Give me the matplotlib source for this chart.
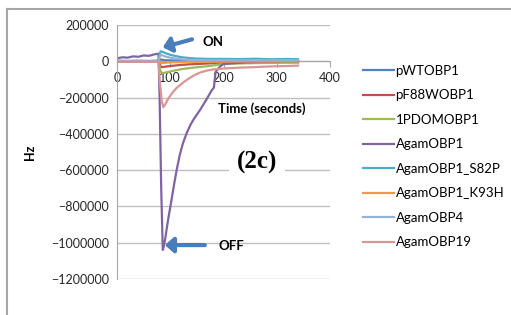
import matplotlib.pyplot as plt
from matplotlib.lines import Line2D

# time points (s) and responses (Hz)
t_flat = [0, 20, 40, 60, 78, 80, 82, 86, 90, 100, 110, 120, 135, 150, 170, 200, 230, 260, 290, 320, 340]
pwt = [2000, 1000, 2000, 1000, 2000, 8000, 10000, 8000, 6000, 5000, 4000, 4000, 3000, 3000, 2000, 3000, 2000, 3000, 2000, 3000, 2000]
pf88w = [0, -1000, 0, -1000, 0, -15000, -30000, -32000, -30000, -26000, -23000, -20000, -17000, -15000, -12000, -8000, -6000, -5000, -4000, -3000, -3000]
pdom = [0, 0, -1000, 0, 0, -30000, -58000, -65000, -63000, -56000, -50000, -44000, -38000, -33000, -27000, -15000, -12000, -10000, -9000, -8000, -8000]
s82p = [3000, 2000, 3000, 2000, 4000, 40000, 55000, 52000, 46000, 36000, 29000, 23000, 18000, 15000, 13000, 13000, 12000, 14000, 11000, 13000, 11000]
k93h = [0, 0, 0, 0, 0, -5000, -10000, -9000, -8000, -6000, -5000, -4000, -3000, -3000, -2000, -2000, -1000, -1000, -1000, 0, 0]
obp4 = [0, 1000, 0, 1000, 0, 25000, 35000, 32000, 27000, 20000, 15000, 11000, 8000, 7000, 6000, 6000, 5000, 6000, 5000, 6000, 5000]

t_obp1 = [0, 10, 20, 30, 40, 50, 60, 70, 78, 80, 83, 86, 88, 91, 94, 97, 100, 104, 108, 112, 118, 124, 131, 138, 145,
          156, 163, 169, 174, 178, 182, 185, 190, 195, 200, 220, 250, 280, 310, 340]
agam_obp1 = [16000, 22000, 20000, 27000, 25000, 32000, 30000, 38000, 42000, -200000, -700000, -1040000, -1020000, -970000, -910000, -855000, -805000, -735000, -665000, -600000, -515000, -450000, -395000, -350000, -315000,
             -268000, -235000, -205000, -180000, -160000, -145000, -60000, -40000, -25000, -15000, -10000, -5000, -3000, 0, 0]

t_obp19 = [0, 20, 40, 60, 78, 80, 84, 87, 91, 95, 100, 105, 111, 118, 126, 135, 145, 156, 168, 180, 200, 230, 260, 290, 320, 340]
agam_obp19 = [-3000, -2000, -3000, -2000, -3000, -100000, -220000, -253000, -235000, -212000, -190000, -170000, -150000, -132000, -113000, -95000, -77000, -62000, -52000, -45000, -40000, -35000, -32000, -28000, -26000, -24000]

labels = ["pWTOBP1", "pF88WOBP1", "1PDOMOBP1", "AgamOBP1", "AgamOBP1_S82P", "AgamOBP1_K93H", "AgamOBP4", "AgamOBP19"]
colors = ["#4F81BD", "#C0504D", "#9BBB59", "#8064A2", "#4BACC6", "#F79646", "#95B3D7", "#D99694"]

plt.rcParams['font.family'] = ['Lato', 'DejaVu Sans']

fig = plt.figure(figsize=(5.11, 3.15), dpi=100)
ax = fig.add_axes([117 / 511, 1 - 279 / 315, 213 / 511, 254 / 315])

series = [(t_flat, pwt), (t_flat, pf88w), (t_flat, pdom), (t_obp1, agam_obp1),
          (t_flat, s82p), (t_flat, k93h), (t_flat, obp4), (t_obp19, agam_obp19)]
for (t, v), lab, c in zip(series, labels, colors):
    ax.plot(t, v, color=c, lw=1.6, label=lab, solid_joinstyle='round')

ax.set_xlim(0, 400)
ax.set_ylim(-1200000, 200000)
ax.set_xticks([0, 100, 200, 300, 400])
ax.set_yticks(range(-1200000, 200001, 200000))
ax.ticklabel_format(axis="y", style="plain", useOffset=False)
ax.yaxis.grid(True, color="#BFBFBF", lw=1)
ax.set_axisbelow(True)
for s in ["top", "right"]:
    ax.spines[s].set_visible(False)
ax.spines["bottom"].set_position(("data", 0))
ax.spines["bottom"].set_color("#A6A6A6")
ax.spines["left"].set_color("#A6A6A6")
ax.tick_params(axis="y", length=0, labelsize=9, colors="#262626", pad=6)
ax.tick_params(axis="x", length=4, direction="out", color="#A6A6A6", labelsize=9, labelcolor="#262626", pad=4)

ax.set_xlabel("Time (seconds)", fontsize=9.5, fontweight="bold")
ax.xaxis.set_label_coords(0.68, 0.695)
ax.set_ylabel("Hz", fontsize=9, fontweight="bold")
ax.yaxis.set_label_coords(-0.38, 0.5)

ax.text(263, -560000, "(2c)", fontsize=18, fontweight="bold", family="Liberation Serif",
        ha="center", va="center", bbox=dict(facecolor="white", edgecolor="none", pad=6))

arrow = dict(arrowstyle="-|>,head_length=0.5,head_width=0.45", color="#4A7EBB", lw=3, shrinkA=0, shrinkB=0)
ax.annotate("", xy=(86, 77000), xytext=(141, 121000), arrowprops=arrow)
ax.text(161, 108000, "ON", fontsize=9.5, fontweight="bold", va="center")
ax.annotate("", xy=(90, -1013000), xytext=(165, -1013000), arrowprops=arrow)
ax.text(190, -1018000, "OFF", fontsize=9.5, fontweight="bold", va="center")

fig.legend(loc="upper left", bbox_to_anchor=(356 / 511, 1 - 58 / 315), frameon=False,
           fontsize=9.5, handlelength=2.4, handletextpad=0.1, labelspacing=0.95, borderpad=0)

# chart border
fig.add_artist(Line2D([7 / 511, 7 / 511], [0, 1 - 9 / 315], color="#A6A6A6", lw=1.5))
fig.add_artist(Line2D([7 / 511, 1], [1 - 9 / 315, 1 - 9 / 315], color="#A6A6A6", lw=1.5))

fig.savefig("out.png", dpi=100)
